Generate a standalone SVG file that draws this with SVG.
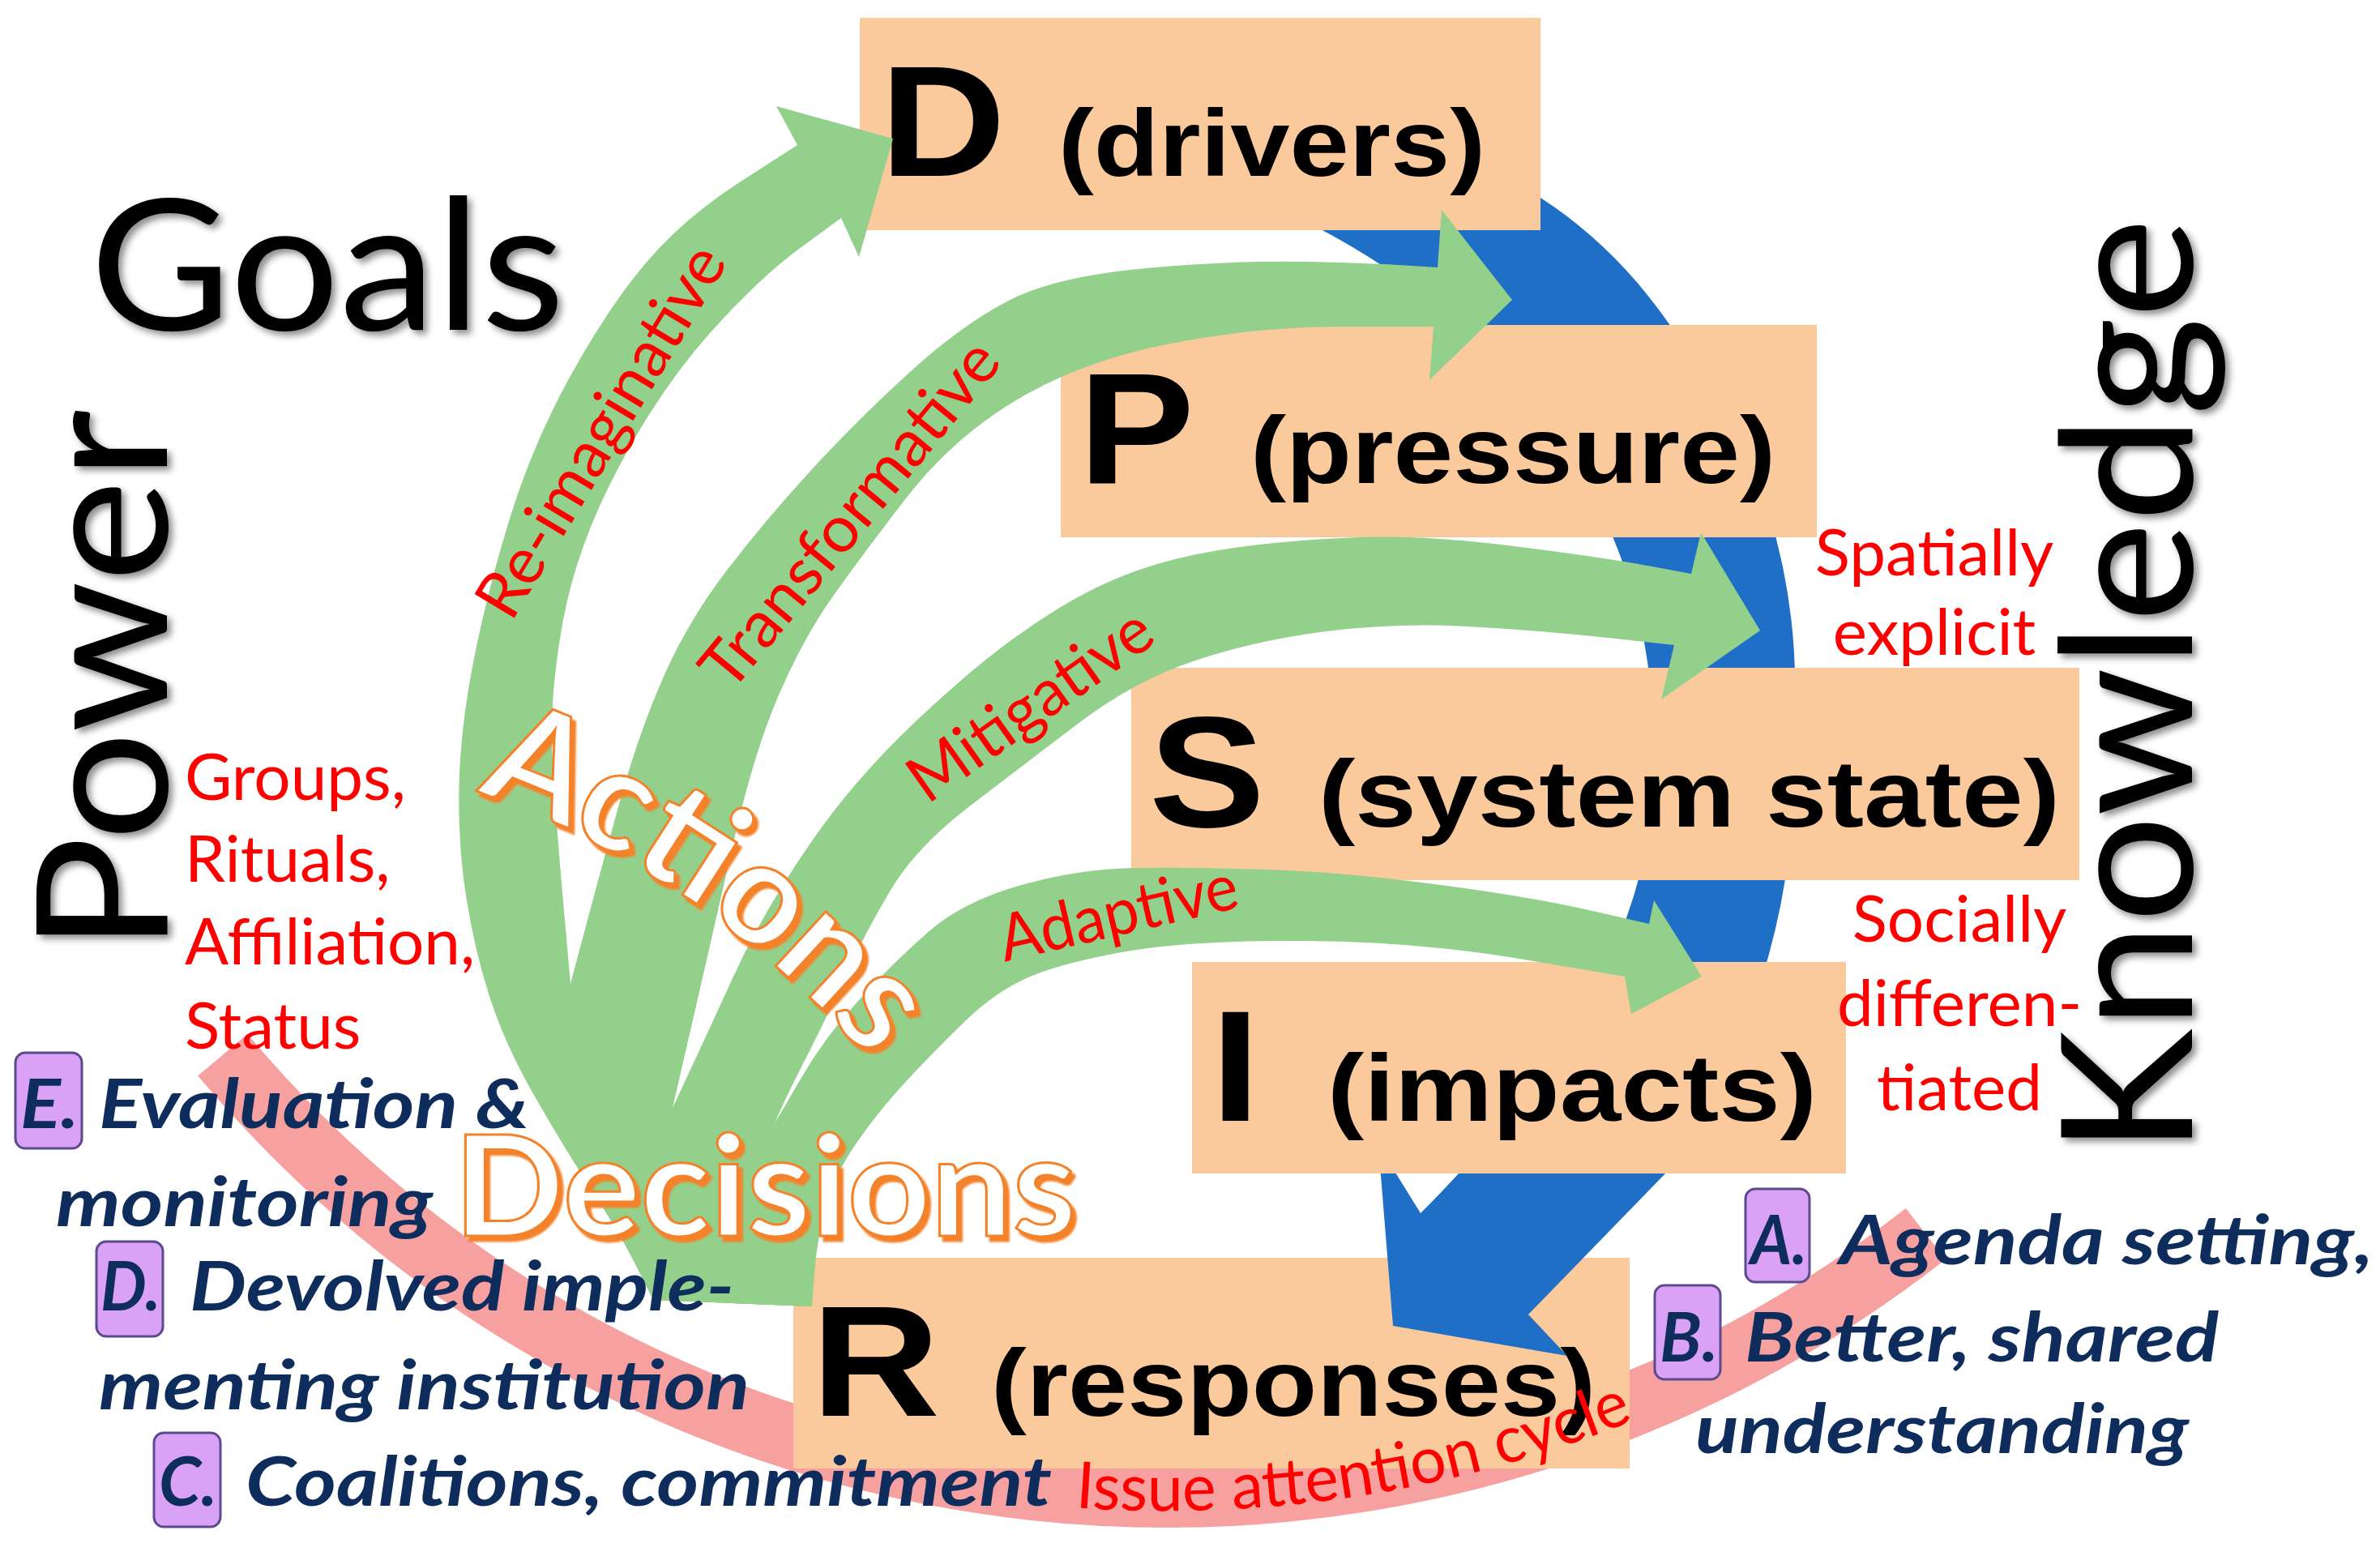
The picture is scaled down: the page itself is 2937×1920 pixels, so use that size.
<svg xmlns="http://www.w3.org/2000/svg" width="2937" height="1920" viewBox="0 0 2937 1920">
<defs>
<style>
.box{fill:#FBCA9C}
.big{font-family:"Liberation Sans",Arial,sans-serif;font-weight:bold;font-size:195px;fill:#000}
.sub{font-family:"Liberation Sans",Arial,sans-serif;font-weight:bold;font-size:116px;fill:#000}
.title{font-family:Lato,"Open Sans",sans-serif;font-size:225px;fill:#000}
.red{font-family:Lato,"Open Sans",sans-serif;font-size:80px;fill:#FF0000}
.navy{font-family:Lato,"Open Sans",sans-serif;font-weight:bold;font-style:italic;font-size:84px;fill:#0E2D5C}
.tag{fill:#D9A2F7;stroke:#5B4A8E;stroke-width:3}
.green{fill:#93D08C}
.outline{font-family:Lato,"Open Sans",sans-serif;font-weight:bold;fill:#FFFFFF;stroke:#F4822A;stroke-width:3;filter:url(#orangeShadow)}
</style>
<filter id="shadow" x="-10%" y="-10%" width="130%" height="130%">
<feDropShadow dx="5" dy="5" stdDeviation="4" flood-color="#000" flood-opacity="0.45"/>
</filter>
<filter id="orangeShadow" x="-10%" y="-10%" width="130%" height="130%">
<feDropShadow dx="5" dy="6" stdDeviation="0.8" flood-color="#F4822A" flood-opacity="1"/>
</filter>
<path id="issuePath" d="M 1173,1841 A 1540 1540 0 0 0 2620,1314"/>
<path id="actionsPath" d="M 588,978 Q 860,1070 1078,1312"/>
</defs>
<rect width="2937" height="1920" fill="#FFFFFF"/>

<g id="connector-issue-attention-cycle">
<path d="M 274.8,1301.7 A 1521 1521 0 0 0 2376.4,1522.6" fill="none" stroke="#F7A0A0" stroke-width="80"/>
</g>

<g id="node-R">
<rect class="box" x="979" y="1552" width="1032" height="260"/>
<text class="big" x="1001" y="1747" textLength="159" lengthAdjust="spacingAndGlyphs">R</text>
<text class="sub" x="1223" y="1747" textLength="746" lengthAdjust="spacingAndGlyphs">(responses)</text>
</g>

<g id="connector-dpsir-cycle">
<path fill="#1F6FC6" d="M 1600,150 Q 1900,170 2060,400 Q 2230,620 2214,900 Q 2225,1200 2058,1445 L 1886,1622 L 1934,1673 L 1719,1636 L 1701,1413 L 1753,1497 Q 1990,1260 2030,1050 Q 2070,800 1960,600 Q 1850,400 1630,283 L 1550,260 Z"/>
</g>

<g id="node-D">
<rect class="box" x="1061" y="22" width="840" height="262"/>
<text class="big" x="1086" y="217" textLength="155" lengthAdjust="spacingAndGlyphs">D</text>
<text class="sub" x="1306" y="217" textLength="527" lengthAdjust="spacingAndGlyphs">(drivers)</text>
</g>
<g id="node-P">
<rect class="box" x="1309" y="401" width="933" height="262"/>
<text class="big" x="1331" y="596" textLength="143" lengthAdjust="spacingAndGlyphs">P</text>
<text class="sub" x="1543" y="596" textLength="648" lengthAdjust="spacingAndGlyphs">(pressure)</text>
</g>
<g id="node-S">
<rect class="box" x="1396" y="824" width="1170" height="262"/>
<text class="big" x="1418" y="1020" textLength="143" lengthAdjust="spacingAndGlyphs">S</text>
<text class="sub" x="1627" y="1020" textLength="915" lengthAdjust="spacingAndGlyphs">(system state)</text>
</g>
<g id="node-I">
<rect class="box" x="1471" y="1187" width="807" height="261"/>
<text class="big" x="1494" y="1383" textLength="61" lengthAdjust="spacingAndGlyphs">I</text>
<text class="sub" x="1638" y="1383" textLength="604" lengthAdjust="spacingAndGlyphs">(impacts)</text>
</g>

<g id="connectors-actions">
<path id="arrow-reimaginative" class="green" d="M 1102,171 L 958,131 L 984,179 L 914,224 Q 844,269 797,324.5 Q 750,380 703,465.5 Q 656,551 628,643 Q 600,735 584,817.5 Q 568,900 566.5,970 Q 565,1040 575,1105 Q 585,1170 603.5,1228 Q 622,1286 656.5,1347 Q 691,1408 728,1465 Q 765,1522 785.5,1563 L 806,1604 L 1002,1612 L 704,1214 L 694.5,1107 Q 685,1000 681.5,928.5 Q 678,857 695,765 Q 712,673 764,575.5 Q 816,478 876.5,410.5 Q 937,343 987.5,306 L 1038,269 L 1060,317 Z"/>
<path id="arrow-transformative" class="green" d="M 1866,370 L 1779,259 L 1774,330 L 1735,327.5 Q 1700,325 1613,323 Q 1526,321 1414.5,331 Q 1303,341 1245.5,370.5 Q 1188,400 1124,458 Q 1060,516 1002.5,578.5 Q 945,641 897.5,703 Q 850,765 820,832.5 Q 790,900 767.5,980 Q 745,1060 724.5,1137 L 704,1214 L 806,1604 L 1002,1612 L 830,1367 L 855,1258.5 Q 880,1150 905,1040 Q 930,930 960,860 Q 990,790 1025,740 Q 1060,690 1117.5,615.5 Q 1175,541 1254.5,493.5 Q 1334,446 1441.5,424.5 Q 1549,403 1658.5,403 L 1769,403 L 1764,469 Z"/>
<path id="arrow-mitigative" class="green" d="M 2172,778 L 2099,657 L 2087,708 L 2036,698.5 Q 1985,689 1892.5,677 Q 1800,665 1739.5,663 Q 1679,661 1589.5,668.5 Q 1500,676 1435,694 Q 1370,712 1310,748.5 Q 1250,785 1200,827.5 Q 1150,870 1112,907.5 Q 1074,945 1039.5,987.5 Q 1005,1030 967.5,1090 Q 930,1150 904.5,1206 Q 879,1262 854.5,1314.5 L 830,1367 L 806,1604 L 1002,1612 L 925,1440 L 943.5,1417.5 Q 959,1375 988,1318.5 Q 1017,1262 1042.5,1206 Q 1068,1150 1099.5,1097.5 Q 1131,1045 1197,994.5 Q 1263,944 1331.5,892 Q 1400,840 1475,815 Q 1550,790 1636.5,779 Q 1723,768 1811.5,773 Q 1900,778 1984.5,787 L 2066,796 L 2050,863 Z"/>
<path id="arrow-adaptive" class="green" d="M 2100,1205 L 2041,1111 L 2035,1140 L 1963,1123.5 Q 1891,1107 1774,1091.5 Q 1657,1076 1563.5,1073 Q 1470,1070 1401,1071 Q 1332,1072 1260.5,1092 Q 1189,1112 1146,1149.5 Q 1103,1187 1060,1234 Q 1017,1281 988.5,1330.5 Q 960,1380 944,1405 L 925,1440 L 900,1608 L 1002,1612 L 1005,1571 Q 1008,1530 1019,1489.5 Q 1030,1449 1057.5,1409.5 Q 1085,1370 1117.5,1335 Q 1150,1300 1190,1261 Q 1230,1222 1272.5,1204.5 Q 1315,1187 1392.5,1173.5 Q 1470,1160 1610.5,1161 Q 1751,1162 1878,1183.5 L 2005,1205 L 2013,1251 Z"/>
</g>

<g id="arrow-labels">
<text class="red" text-anchor="middle" transform="translate(765,546) rotate(-59)" textLength="520" lengthAdjust="spacingAndGlyphs">Re-imaginative</text>
<text class="red" text-anchor="middle" transform="translate(1070,652) rotate(-50.5)" textLength="530" lengthAdjust="spacingAndGlyphs">Transformative</text>
<text class="red" text-anchor="middle" transform="translate(1287,892) rotate(-35.3)" textLength="350" lengthAdjust="spacingAndGlyphs">Mitigative</text>
<text class="red" text-anchor="middle" transform="translate(1386,1153) rotate(-13)" textLength="300" lengthAdjust="spacingAndGlyphs">Adaptive</text>
<text class="red"><textPath href="#issuePath" startOffset="155" textLength="704" lengthAdjust="spacingAndGlyphs">Issue attention cycle</textPath></text>
</g>

<g id="actions-decisions">
<text class="outline" font-size="178"><textPath href="#actionsPath" textLength="595" lengthAdjust="spacingAndGlyphs">Actions</textPath></text>
<text class="outline" x="560" y="1525" font-size="172" textLength="768" lengthAdjust="spacingAndGlyphs">Decisions</text>
</g>

<g id="axis-labels" filter="url(#shadow)">
<text class="title" x="111" y="407" textLength="586" lengthAdjust="spacingAndGlyphs">Goals</text>
<text class="title" transform="translate(206,1175) rotate(-90)" textLength="670" lengthAdjust="spacingAndGlyphs">Power</text>
<text class="title" transform="translate(2705,1425) rotate(-90)" textLength="1156" lengthAdjust="spacingAndGlyphs">Knowledge</text>
</g>

<g id="power-labels">
<text class="red" x="228" y="987">Groups,</text>
<text class="red" x="228" y="1088">Rituals,</text>
<text class="red" x="228" y="1190">Affiliation,</text>
<text class="red" x="228" y="1294">Status</text>
</g>
<g id="knowledge-labels">
<text class="red" x="2387" y="710" text-anchor="middle">Spatially</text>
<text class="red" x="2387" y="808" text-anchor="middle">explicit</text>
<text class="red" x="2418" y="1162" text-anchor="middle">Socially</text>
<text class="red" x="2418" y="1266" text-anchor="middle">differen-</text>
<text class="red" x="2418" y="1370" text-anchor="middle">tiated</text>
</g>

<g id="stage-E">
<rect class="tag" x="19" y="1299" width="82" height="118" rx="12"/>
<text class="navy" x="25" y="1392" textLength="72" lengthAdjust="spacingAndGlyphs">E.</text>
<text class="navy" x="122" y="1392" textLength="531" lengthAdjust="spacingAndGlyphs">Evaluation &amp;</text>
<text class="navy" x="69" y="1513" textLength="465" lengthAdjust="spacingAndGlyphs">monitoring</text>
</g>
<g id="stage-D">
<rect class="tag" x="119" y="1532" width="82" height="117" rx="12"/>
<text class="navy" x="124" y="1617" textLength="74" lengthAdjust="spacingAndGlyphs">D.</text>
<text class="navy" x="234" y="1617" textLength="672" lengthAdjust="spacingAndGlyphs">Devolved imple-</text>
<text class="navy" x="122" y="1739" textLength="803" lengthAdjust="spacingAndGlyphs">menting institution</text>
</g>
<g id="stage-C">
<rect class="tag" x="190" y="1768" width="82" height="116" rx="12"/>
<text class="navy" x="196" y="1858" textLength="72" lengthAdjust="spacingAndGlyphs">C.</text>
<text class="navy" x="303" y="1858" textLength="995" lengthAdjust="spacingAndGlyphs">Coalitions, commitment</text>
</g>
<g id="stage-A">
<rect class="tag" x="2154" y="1467" width="79" height="115" rx="12"/>
<text class="navy" x="2160" y="1560" textLength="70" lengthAdjust="spacingAndGlyphs">A.</text>
<text class="navy" x="2270" y="1560" textLength="659" lengthAdjust="spacingAndGlyphs">Agenda setting,</text>
</g>
<g id="stage-B">
<rect class="tag" x="2042" y="1586" width="81" height="116" rx="12"/>
<text class="navy" x="2048" y="1680" textLength="72" lengthAdjust="spacingAndGlyphs">B.</text>
<text class="navy" x="2153" y="1680" textLength="585" lengthAdjust="spacingAndGlyphs">Better, shared</text>
<text class="navy" x="2092" y="1793" textLength="609" lengthAdjust="spacingAndGlyphs">understanding</text>
</g>
</svg>
